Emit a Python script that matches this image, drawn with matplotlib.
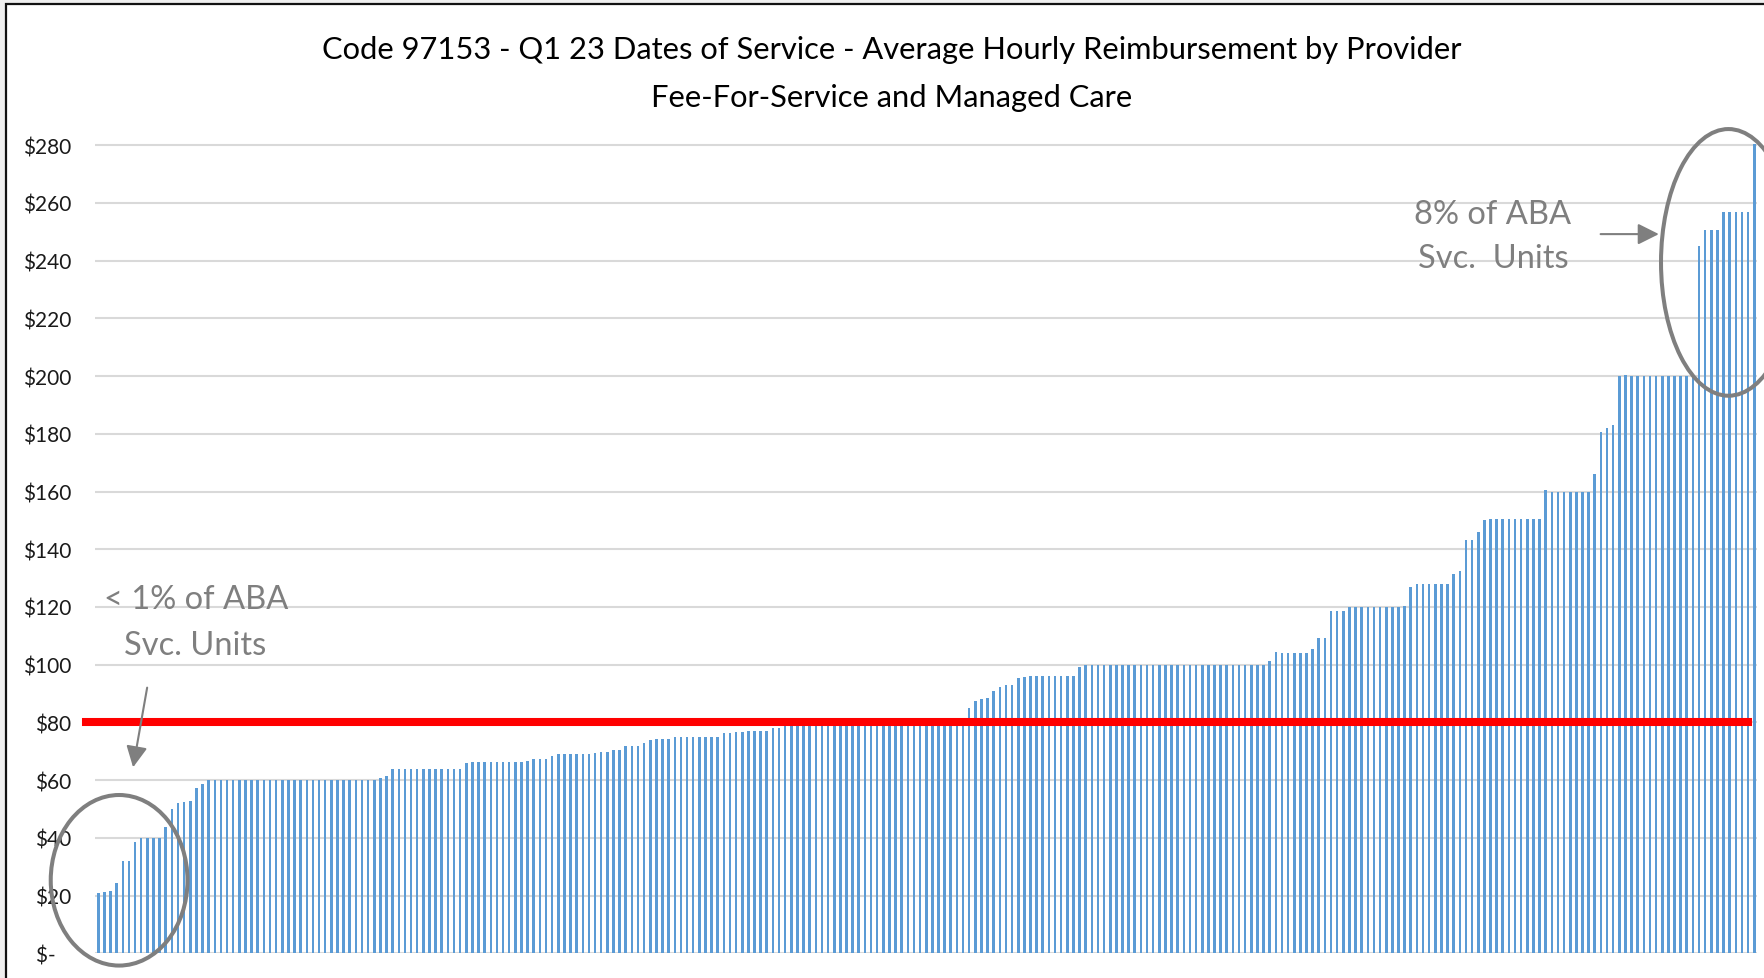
import numpy as np
import matplotlib.pyplot as plt
from matplotlib.patches import Ellipse, Rectangle

# average hourly rate per provider, sorted low -> high
rates = [
    20.8, 21.1, 21.5, 24.4, 32.0, 32.0, 38.5, 39.8, 40.0, 40.0,
    40.0, 43.7, 50.0, 52.0, 52.5, 52.9, 57.3, 58.7, 60.0, 60.0,
    60.0, 60.0, 60.0, 60.0, 60.0, 60.0, 60.0, 60.0, 60.0, 60.0,
    60.0, 60.0, 60.0, 60.0, 60.0, 60.0, 60.0, 60.0, 60.0, 60.0,
    60.0, 60.0, 60.0, 60.0, 60.0, 60.0, 60.6, 61.4, 64.0, 64.0,
    64.0, 64.0, 64.0, 64.0, 64.0, 64.0, 64.0, 64.0, 64.0, 64.0,
    65.8, 66.2, 66.2, 66.2, 66.2, 66.2, 66.2, 66.2, 66.2, 66.4,
    66.6, 67.2, 67.2, 67.2, 68.4, 69.1, 69.1, 69.1, 69.1, 69.1,
    69.1, 69.4, 69.9, 69.8, 70.3, 70.3, 72.0, 72.0, 72.0, 73.0,
    73.8, 74.2, 74.2, 74.2, 74.9, 74.9, 74.9, 74.9, 74.9, 74.9,
    74.9, 74.9, 76.3, 76.3, 76.7, 76.7, 77.1, 77.1, 77.1, 77.1,
    78.1, 78.1, 79.0, 79.0, 79.0, 79.0, 79.0, 79.0, 79.0, 80.0,
    80.0, 80.0, 80.0, 80.0, 80.0, 80.0, 80.0, 80.0, 80.0, 80.0,
    80.0, 80.0, 80.0, 80.0, 80.0, 80.0, 80.0, 80.0, 80.0, 80.0,
    80.0, 81.5, 85.1, 87.3, 88.0, 88.3, 90.9, 92.3, 93.0, 93.0,
    95.5, 95.9, 96.2, 96.2, 96.2, 96.2, 96.2, 96.2, 96.2, 96.2,
    99.1, 100.0, 100.0, 100.0, 100.0, 100.0, 100.0, 100.0, 100.0, 100.0,
    100.0, 100.0, 100.0, 100.0, 100.0, 100.0, 100.0, 100.0, 100.0, 100.0,
    100.0, 100.0, 100.0, 100.0, 100.0, 100.0, 100.0, 100.0, 100.0, 100.0,
    100.0, 101.3, 104.3, 104.2, 104.2, 104.2, 104.2, 104.2, 105.6, 109.3,
    109.3, 118.7, 118.7, 118.7, 120.1, 120.0, 120.0, 120.0, 120.0, 120.0,
    120.0, 120.0, 120.0, 120.5, 127.0, 128.1, 128.1, 128.1, 128.1, 128.1,
    128.1, 131.4, 132.4, 143.1, 143.1, 146.0, 150.3, 150.6, 150.6, 150.6,
    150.6, 150.6, 150.6, 150.6, 150.6, 150.6, 160.7, 160.0, 160.0, 160.0,
    160.0, 160.0, 160.0, 160.0, 166.2, 180.5, 181.9, 183.0, 199.9, 200.4,
    200.0, 200.0, 200.0, 200.0, 200.0, 200.0, 200.0, 200.0, 200.0, 200.0,
    200.0, 245.0, 250.6, 250.6, 250.6, 256.9, 256.9, 256.9, 256.9, 256.9,
    280.5,
]
target_rate = 80
y_ticks = [0, 20, 40, 60, 80, 100, 120, 140, 160, 180, 200, 220, 240, 260, 280]
y_labels = ['$-   '] + ['$%d' % t for t in y_ticks[1:]]

title_1 = 'Code 97153 - Q1 23 Dates of Service - Average Hourly Reimbursement by Provider'
title_2 = 'Fee-For-Service and Managed Care'
note_low = ['< 1% of ABA', 'Svc. Units']
note_high = ['8% of ABA', 'Svc.  Units']

plt.rcParams['font.family'] = ['Lato', 'DejaVu Sans']

W, H = 1765, 979
fig = plt.figure(figsize=(W / 100, H / 100), dpi=100)
fig.patch.set_facecolor('#efefef')

# slide frame (white box with dark border on top / left)
fig.add_artist(Rectangle((6 / W, -0.1), 1.2, 1.1 - 5 / H, transform=fig.transFigure,
                         facecolor='white', edgecolor='#111111', lw=1.6, zorder=-1))

ax = fig.add_axes([95.2 / W, 24.7 / H, 1662.1 / W, 282 * 2.886 / H])
ax.patch.set_visible(False)

x = np.arange(len(rates))
ax.bar(x, rates, width=0.42, color='#5b9bd5', zorder=2)
ax.set_xlim(-0.5, len(rates) - 0.5)
ax.set_ylim(0, 282)

ax.set_yticks(y_ticks)
ax.set_yticklabels(y_labels)
ax.set_xticks([])
ax.yaxis.grid(True, color='#d9d9d9', lw=1.5)
ax.set_axisbelow(True)
for s in ax.spines.values():
    s.set_visible(False)
ax.tick_params(axis='y', length=0, pad=17, labelsize=15, labelcolor='#1a1a1a')

# $80 reference line
ax.axhline(target_rate, xmin=-0.0058, xmax=0.9944, color='#ff0000', lw=5.8,
           clip_on=False, zorder=4)

gray = '#7f7f7f'
ax.add_patch(Ellipse((3.4, 25.3), 22.3, 59.1, fill=False, edgecolor=gray, lw=2.9,
                     clip_on=False, zorder=5))
ax.add_patch(Ellipse((265.8, 239.4), 22.0, 92.4, fill=False, edgecolor=gray, lw=2.9,
                     clip_on=False, zorder=5))

ax.annotate('', xy=(5.6, 63.5), xytext=(8.05, 93.0),
            arrowprops=dict(arrowstyle='-|>', color=gray, lw=1.5, mutation_scale=32),
            zorder=5)
ax.annotate('', xy=(254.9, 249.2), xytext=(244.5, 249.2),
            arrowprops=dict(arrowstyle='-|>', color=gray, lw=1.5, mutation_scale=32),
            zorder=5)

ax.text(15.9, 119.6, note_low[0], ha='center', va='baseline', fontsize=23.5, color=gray, zorder=5)
ax.text(15.8, 103.7, note_low[1], ha='center', va='baseline', fontsize=23.5, color=gray, zorder=5)
ax.text(227.3, 253.1, note_high[0], ha='center', va='baseline', fontsize=23.5, color=gray, zorder=5)
ax.text(227.4, 237.7, note_high[1], ha='center', va='baseline', fontsize=23.5, color=gray, zorder=5)

fig.text(892 / W, 1 - 59.3 / H, title_1, ha='center', va='baseline', fontsize=22.2, color='black')
fig.text(892 / W, 1 - 106.5 / H, title_2, ha='center', va='baseline', fontsize=22.2, color='black')

fig.savefig('out.png', dpi=100, facecolor=fig.get_facecolor())
